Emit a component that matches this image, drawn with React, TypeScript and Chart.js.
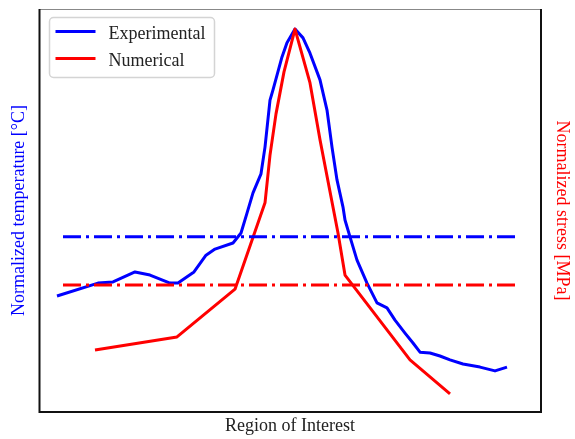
import { useEffect, useRef } from "react";
import { Chart, registerables } from "chart.js";

Chart.register(...registerables);

// Measured temperature along the region of interest (normalized to its peak)
const expPosition = [
  3.4, 11.6, 14.6, 19, 22, 26, 27.6, 30.8, 33.2, 35, 38.6, 40.2, 41.4, 42.6, 44.2, 45, 46, 46.6,
  48.4, 49.4, 51, 52.6, 54, 56, 57.4, 58.4, 59.4, 60.6, 61, 62, 63.4, 65.4, 67.4, 69.4, 71, 73,
  74.6, 76, 78, 80, 82, 84.6, 88, 91, 93.4,
];
const expTemperature = [
  0.301, 0.335, 0.338, 0.364, 0.356, 0.335, 0.335, 0.364, 0.408, 0.424, 0.44, 0.466, 0.518, 0.571,
  0.621, 0.691, 0.814, 0.841, 0.927, 0.964, 1.0, 0.977, 0.937, 0.867, 0.788, 0.691, 0.605, 0.534,
  0.5, 0.456, 0.395, 0.335, 0.283, 0.27, 0.238, 0.204, 0.178, 0.154, 0.152, 0.144, 0.134, 0.123,
  0.115, 0.105, 0.115,
];

// Simulated stress (normalized to its peak)
const numPosition = [11, 27.4, 39, 45, 46, 47.2, 48.8, 51, 54, 56, 59.6, 61, 74, 82];
const numStress = [
  0.16, 0.194, 0.319, 0.545, 0.67, 0.778, 0.888, 1.0, 0.859, 0.71, 0.466, 0.356, 0.134, 0.045,
];

// Reference levels drawn as dash-dot lines
const thresholdSpan = [4.6, 95.8];
const temperatureThreshold = 0.456;
const stressThreshold = 0.33;

const seriesNames = ["Experimental", "Numerical"];
const seriesColors = ["#0000ff", "#ff0000"];
const xTitle = "Region of Interest";
const leftTitle = "Normalized temperature [°C]";
const rightTitle = "Normalized stress [MPa]";

const FONT = "'Liberation Serif', 'Times New Roman', serif";

const framePlugin = {
  id: "frame",
  afterDatasetsDraw(chart: any) {
    const { ctx, chartArea: a } = chart;
    ctx.save();
    ctx.strokeStyle = "#888888";
    ctx.lineWidth = 1;
    ctx.beginPath();
    ctx.moveTo(a.left, a.top - 0.5);
    ctx.lineTo(a.right, a.top - 0.5);
    ctx.stroke();
    ctx.strokeStyle = "#111111";
    ctx.lineWidth = 2;
    ctx.beginPath();
    ctx.moveTo(a.left - 0.5, a.top - 1);
    ctx.lineTo(a.left - 0.5, a.bottom + 1);
    ctx.lineTo(a.right + 1, a.bottom + 1);
    ctx.lineTo(a.right + 1, a.top - 1);
    ctx.stroke();
    ctx.restore();
  },
};

const legendPlugin = {
  id: "boxLegend",
  afterDraw(chart: any) {
    const { ctx, chartArea: a } = chart;
    const x0 = a.left + 9.5;
    const y0 = a.top + 7.5;
    const w = 165;
    const h = 60;
    ctx.save();
    ctx.fillStyle = "rgba(255,255,255,0.85)";
    ctx.strokeStyle = "#d4d4d4";
    ctx.lineWidth = 1.5;
    ctx.beginPath();
    ctx.roundRect(x0, y0, w, h, 4);
    ctx.fill();
    ctx.stroke();
    ctx.font = `18px ${FONT}`;
    ctx.textBaseline = "alphabetic";
    seriesNames.forEach((name, i) => {
      const ly = y0 + 14 + i * 27;
      ctx.strokeStyle = seriesColors[i];
      ctx.lineWidth = 3;
      ctx.beginPath();
      ctx.moveTo(x0 + 6, ly);
      ctx.lineTo(x0 + 46, ly);
      ctx.stroke();
      ctx.fillStyle = "#222222";
      ctx.fillText(name, x0 + 59, ly + 7);
    });
    ctx.restore();
  },
};

export default function App() {
  const canvasRef = useRef<HTMLCanvasElement | null>(null);

  useEffect(() => {
    const canvas = canvasRef.current;
    if (!canvas) return;
    const pts = (xs: number[], ys: number[]) => xs.map((x, i) => ({ x, y: ys[i] }));
    const level = (v: number) => thresholdSpan.map((x) => ({ x, y: v }));
    const lineBase = {
      borderWidth: 3,
      pointRadius: 0,
      tension: 0,
      fill: false,
      borderJoinStyle: "round" as const,
    };

    const chart = new Chart(canvas, {
      type: "line",
      data: {
        datasets: [
          {
            ...lineBase,
            label: seriesNames[0],
            data: pts(expPosition, expTemperature),
            borderColor: seriesColors[0],
            yAxisID: "y",
            order: 4,
          },
          {
            ...lineBase,
            label: seriesNames[1],
            data: pts(numPosition, numStress),
            borderColor: seriesColors[1],
            yAxisID: "y1",
            order: 3,
          },
          {
            ...lineBase,
            label: "temperature level",
            data: level(temperatureThreshold),
            borderColor: seriesColors[0],
            borderDash: [18, 5, 3, 5],
            yAxisID: "y",
            order: 2,
          },
          {
            ...lineBase,
            label: "stress level",
            data: level(stressThreshold),
            borderColor: seriesColors[1],
            borderDash: [18, 5, 3, 5],
            yAxisID: "y1",
            order: 1,
          },
        ],
      },
      options: {
        responsive: false,
        animation: false,
        devicePixelRatio: 1,
        layout: { padding: { top: 10, left: 0, right: 0, bottom: 0 } },
        plugins: { legend: { display: false }, tooltip: { enabled: false } },
        scales: {
          x: {
            type: "linear",
            min: 0,
            max: 100,
            grid: { display: false },
            border: { display: false },
            ticks: { display: false },
            title: {
              display: true,
              text: xTitle,
              color: "#222222",
              font: { family: FONT, size: 18 },
              padding: { top: 0, bottom: 2 },
            },
            afterFit: (s: any) => {
              s.height = 28;
            },
          },
          y: {
            type: "linear",
            position: "left",
            min: 0,
            max: 1.05,
            grid: { display: false },
            border: { display: false },
            ticks: { display: false },
            title: {
              display: true,
              text: leftTitle,
              color: seriesColors[0],
              font: { family: FONT, size: 18 },
              padding: { top: 8, bottom: 0 },
            },
            afterFit: (s: any) => {
              s.width = 40;
            },
          },
          y1: {
            type: "linear",
            position: "right",
            min: 0,
            max: 1.05,
            grid: { display: false },
            border: { display: false },
            ticks: { display: false },
            title: {
              display: true,
              text: rightTitle,
              color: seriesColors[1],
              font: { family: FONT, size: 18 },
              padding: { top: 2, bottom: 0 },
            },
            afterFit: (s: any) => {
              s.width = 35;
            },
          },
        },
      },
      plugins: [framePlugin, legendPlugin],
    });
    return () => chart.destroy();
  }, []);

  return (
    <div style={{ position: "fixed", left: 0, top: 0, width: 575, height: 439, background: "#fff" }}>
      <canvas ref={canvasRef} width={575} height={439} style={{ display: "block" }} />
    </div>
  );
}
